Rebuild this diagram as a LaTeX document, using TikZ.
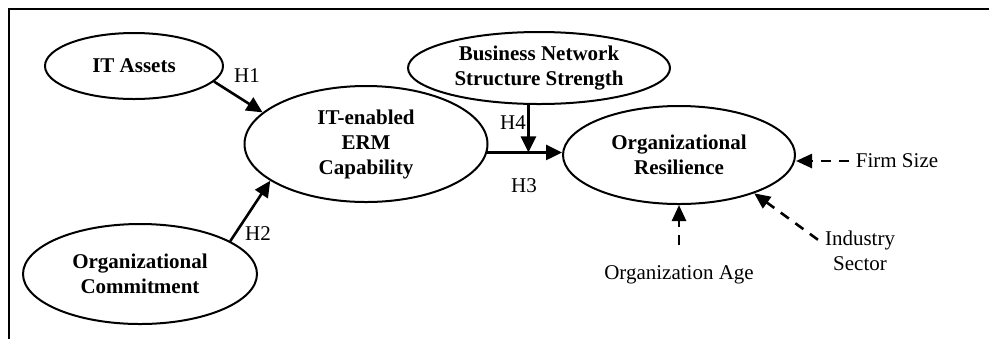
\documentclass[tikz,border=0pt]{standalone}
\usepackage{fontspec}
\setmainfont{Liberation Serif}
\usetikzlibrary{shapes.geometric, positioning, arrows.meta, calc}
\tikzset{
  construct/.style={ellipse, draw=black, line width=1pt, inner sep=0pt, align=center, font=\fontsize{10.5}{12.5}\selectfont\bfseries},
  arrow/.style={line width=1.3pt, -{Triangle[length=8pt,width=7.5pt]}},
  ctrlarrow/.style={line width=1.3pt, dash pattern=on 5pt off 4pt, -{Triangle[length=8pt,width=7pt]}},
  ctrl/.style={align=center}
}

\begin{document}
\begin{tikzpicture}[x=0.5pt, y=-0.5pt, every node/.style={font=\fontsize{10.5}{12.5}\selectfont}]
  \useasboundingbox (0,0) rectangle (989,339);
  \draw [line width=1pt] (9,339) -- (9,9) -- (989,9);

  \node (assets) [construct, minimum width=89pt, minimum height=33pt] at (134,66) {IT Assets};
  \node (commit) [construct, minimum width=117pt, minimum height=50pt] at (140,274) {Organizational\\Commitment};
  \node (erm) [construct, minimum width=121.5pt, minimum height=58pt] at (366,144) {IT-enabled\\ERM\\Capability};
  \node (network) [construct, minimum width=131pt, minimum height=36pt] at (539,68) {Business Network\\Structure Strength};
  \node (resil) [construct, minimum width=116pt, minimum height=49pt] at (679,155) {Organizational\\Resilience};

  \node (firm) [ctrl] at (897,161) {Firm Size};
  \node (age) [ctrl, below=27pt of resil] {Organization Age};
  \node (industry) [ctrl] at (860,251) {Industry\\Sector};

  \node (h1) at (247,76) {H1};
  \node (h2) at (258,234) {H2};
  \node (h3) at (524,186) {H3};
  \node (h4) at (513,123) {H4};

  \draw [arrow] (assets.-11) -- (erm.163);
  \draw [arrow] (commit.20) -- (erm.201);
  \draw [arrow] (erm.-4) -- (erm.-4 -| resil.west);
  \draw [arrow] (network.254) -- (network.254 |- erm.-4);

  % controls
  \draw [ctrlarrow] (firm.west) -- (firm.west -| resil.east);
  \draw [ctrlarrow, shorten <=7pt] (age) -- (resil);
  \draw [ctrlarrow] (industry.165) -- (resil.-27);
\end{tikzpicture}
\end{document}
